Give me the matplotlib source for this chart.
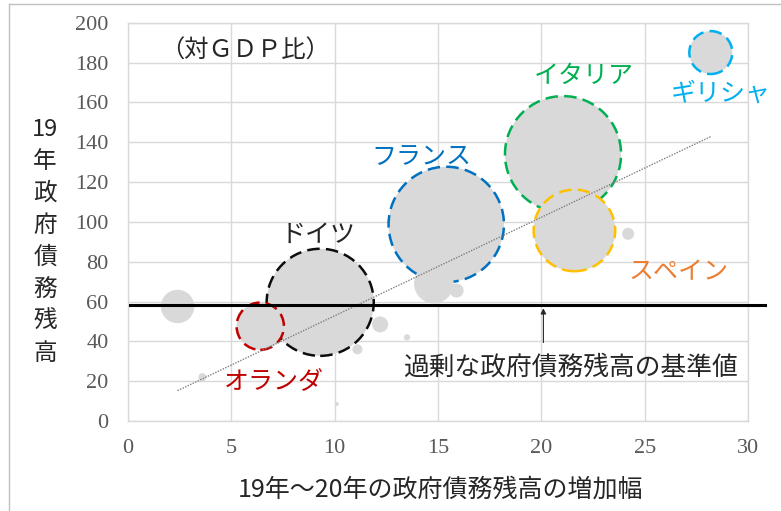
import matplotlib.pyplot as plt
import numpy as np
from matplotlib.lines import Line2D

plt.rcParams['font.family'] = ['Noto Sans CJK JP', 'DejaVu Sans']

# データ（対GDP比）
countries = ['イタリア', 'フランス', 'ドイツ', 'スペイン', 'オランダ', 'ギリシャ', 'ベルギー',
             'オーストリア', 'アイルランド', 'フィンランド', 'スロバキア', 'スロベニア',
             'キプロス', 'リトアニア', 'ルクセンブルク', 'マルタ', 'エストニア']
increase = [21.05, 15.4, 9.3, 21.6, 6.4, 28.2, 16.0,
            14.8, 2.4, 9.6, 12.2, 15.9,
            24.2, 11.1, 3.6, 13.5, 10.1]
debt_2019 = [134, 98.7, 59.6, 95.7, 47.6, 185, 98.1,
             69, 57.5, 59.6, 48.5, 65.5,
             94, 36, 22, 42, 8.5]
debt_amount = [2.41, 2.38, 2.05, 1.19, 0.40, 0.33, 0.47,
               0.28, 0.20, 0.14, 0.046, 0.035,
               0.026, 0.018, 0.012, 0.007, 0.003]
threshold = 58

highlight = {
    'イタリア': ('#00B050', '#00B050', (22.06, 173.4)),
    'フランス': ('#0070C0', '#0070C0', (14.2, 132.8)),
    'ドイツ': ('#0D0D0D', '#262626', (9.2, 93.2)),
    'スペイン': ('#FFC000', '#ED7D31', (26.66, 74.7)),
    'オランダ': ('#C00000', '#C00000', (7.06, 19.5)),
    'ギリシャ': ('#00B0F0', '#00B0F0', (28.7, 164.4)),
}

x_ticks = [0, 5, 10, 15, 20, 25, 30]
y_ticks = [0, 20, 40, 60, 80, 100, 120, 140, 160, 180, 200]

fig = plt.figure(figsize=(7.81, 5.11), dpi=100)
ax = fig.add_axes([128 / 781, 90 / 511, 620 / 781, 398.3 / 511])

# 大きいバブルから描く
order = np.argsort(debt_amount)[::-1]
xs = np.array(increase)[order]
ys = np.array(debt_2019)[order]
sizes = np.array(debt_amount)[order] * 2900
edges = [highlight[countries[i]][0] if countries[i] in highlight else 'none' for i in order]
ax.scatter(xs, ys, s=sizes, c='#D9D9D9', edgecolors=edges, linewidths=1.8,
           linestyle=(0, (5, 2.5)), zorder=3)

# 近似直線
coef = np.polyfit(increase, debt_2019, 1)
tx = np.array([min(increase), max(increase)])
ax.plot(tx, np.polyval(coef, tx), color='#7F7F7F', linestyle=(0, (1, 1)), lw=1.0, zorder=4)

# 基準線
ax.plot([0.1, 30.8], [threshold, threshold], color='black', lw=2.2, clip_on=False, zorder=5)
ax.annotate('', xy=(20.1, threshold), xytext=(20.1, 38),
            arrowprops=dict(arrowstyle='-|>', color='#262626', lw=0.8, mutation_scale=8),
            zorder=5)
ax.text(21.4, 27, '過剰な政府債務残高の基準値', fontsize=18.5, color='#262626',
        ha='center', va='center', zorder=6)

for name, (ec, tc, pos) in highlight.items():
    ax.text(pos[0], pos[1], name, fontsize=18, color=tc, ha='center', va='center',
            clip_on=False, zorder=6)

ax.text(5.66, 186, '（対ＧＤＰ比）', fontsize=17.5, color='#262626', ha='center', va='center')

ax.set_xlim(0, 30)
ax.set_ylim(0, 200)
ax.set_xticks(x_ticks)
ax.set_yticks(y_ticks)
ax.grid(True, color='#D9D9D9', lw=1.0)
ax.set_axisbelow(True)
for s in ax.spines.values():
    s.set_color('#D9D9D9')
    s.set_linewidth(1.0)
ax.tick_params(length=0, labelcolor='#595959', labelsize=16)
ax.tick_params(axis='y', pad=14)
ax.tick_params(axis='x', pad=13)
for lab in ax.get_xticklabels() + ax.get_yticklabels():
    lab.set_family('Liberation Serif')

fig.text(440 / 781, 1 - 490 / 511, '19年～20年の政府債務残高の増加幅', fontsize=18,
         color='#262626', ha='center', va='center')
fig.text(45 / 781, 1 - 241 / 511, '19\n年\n政\n府\n債\n務\n残\n高', fontsize=17,
         color='#262626', ha='center', va='center', linespacing=1.5)

# 外枠
fig.add_artist(Line2D([9 / 781, 9 / 781], [0, 1 - 4 / 511], color='#BFBFBF', lw=1.0))
fig.add_artist(Line2D([9 / 781, 1], [1 - 4 / 511, 1 - 4 / 511], color='#BFBFBF', lw=1.0))

fig.savefig('out.png', dpi=100)
